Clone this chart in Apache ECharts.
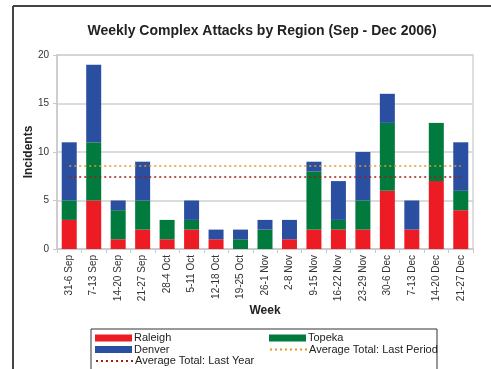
<!DOCTYPE html>
<html>
<head>
<meta charset="utf-8">
<script src="https://cdn.jsdelivr.net/npm/echarts@6/dist/echarts.min.js"></script>
<style>
  html, body { margin: 0; padding: 0; background: #fff; }
  #chart { width: 491px; height: 369px; }
</style>
</head>
<body>
<div id="chart"></div>
<script>
// weeks on the x axis
var weeks = ['31-6 Sep', '7-13 Sep', '14-20 Sep', '21-27 Sep', '28-4 Oct', '5-11 Oct',
  '12-18 Oct', '19-25 Oct', '26-1 Nov', '2-8 Nov', '9-15 Nov', '16-22 Nov',
  '23-29 Nov', '30-6 Dec', '7-13 Dec', '14-20 Dec', '21-27 Dec']
// incidents per region
var raleigh = [3, 5, 1, 2, 1, 2, 1, 0, 0, 1, 2, 2, 2, 6, 2, 7, 4]
var topeka = [2, 6, 3, 3, 2, 1, 0, 1, 2, 0, 6, 1, 3, 7, 0, 6, 2]
var denver = [6, 8, 1, 4, 0, 2, 1, 1, 1, 2, 1, 4, 5, 3, 3, 0, 5]
// averages
var avgLastPeriod = 8.6
var avgLastYear = 7.5
var yTicks = [0, 5, 10, 15, 20]

var font = 'Liberation Sans, Arial, sans-serif'

function avgLine(name, value, color) {
  return {
    name: name,
    type: 'line',
    data: [],
    symbol: 'none',
    lineStyle: { color: color, type: [2, 3], width: 1.5 },
    itemStyle: { color: color },
    markLine: {
      silent: true,
      symbol: 'none',
      label: { show: false },
      lineStyle: { color: color, type: [2, 3], width: 1.5 },
      data: [[{ coord: [weeks[0], value] }, { coord: [weeks[weeks.length - 1], value] }]]
    }
  }
}

// one legend per entry, laid out in two columns like the original box
function legendItem(name, left, top, isLine) {
  var item = { name: name }
  if (isLine) item.itemStyle = { opacity: 0 }
  else item.icon = 'rect'
  return {
    left: left,
    top: top,
    itemWidth: 37,
    itemHeight: 7,
    padding: 0,
    textStyle: { fontSize: 11, color: '#222', padding: [0, 0, 0, -3] },
    data: [item]
  }
}

var myChart = echarts.init(document.getElementById('chart'))
var option = {
  animation: false,
  textStyle: { fontFamily: font },
  title: {
    text: 'Weekly Complex Attacks by Region (Sep - Dec 2006)',
    left: 257,
    textAlign: 'center',
    top: 19,
    textStyle: { fontSize: 14, fontWeight: 'bold', color: '#222', fontFamily: font }
  },
  graphic: [
    { type: 'line', shape: { x1: 13, y1: 6, x2: 13, y2: 369 }, style: { stroke: '#444', lineWidth: 2 } },
    { type: 'line', shape: { x1: 13, y1: 6, x2: 491, y2: 6 }, style: { stroke: '#444', lineWidth: 2 } },
    { type: 'rect', shape: { x: 91, y: 329, width: 346, height: 60 }, style: { fill: 'none', stroke: '#333', lineWidth: 1 } }
  ],
  legend: [
    legendItem('Raleigh', 95, 332.5, false),
    legendItem('Denver', 95, 344, false),
    legendItem('Average Total: Last Year', 95, 355.5, true),
    legendItem('Topeka', 269, 332.5, false),
    legendItem('Average Total: Last Period', 269, 344, true)
  ],
  grid: {
    left: 57,
    right: 18,
    top: 55,
    bottom: 120,
    show: true,
    borderColor: '#d4d4d4',
    borderWidth: 1.5
  },
  xAxis: {
    type: 'category',
    data: weeks,
    name: 'Week',
    nameLocation: 'middle',
    nameGap: 56,
    nameMoveOverlap: false,
    nameTextStyle: { fontSize: 12, fontWeight: 'bold', color: '#222' },
    axisLine: { lineStyle: { color: '#c8c8c8', width: 1.5 } },
    axisTick: { show: true, length: 4, lineStyle: { color: '#c8c8c8' } },
    axisLabel: { rotate: 90, fontSize: 10, color: '#333', margin: 6 }
  },
  yAxis: {
    type: 'value',
    min: yTicks[0],
    max: yTicks[yTicks.length - 1],
    interval: 5,
    name: 'Incidents',
    nameLocation: 'middle',
    nameGap: 22,
    nameMoveOverlap: false,
    nameTextStyle: { fontSize: 12, fontWeight: 'bold', color: '#222' },
    axisLine: { show: true, lineStyle: { color: '#c8c8c8', width: 1.5 } },
    axisTick: { show: true, length: 4, lineStyle: { color: '#c8c8c8' } },
    axisLabel: { fontSize: 10, color: '#333', margin: 8 },
    splitLine: { lineStyle: { color: '#d0d0d0', width: 1.5 } }
  },
  series: [
    { name: 'Raleigh', type: 'bar', stack: 'all', data: raleigh, barWidth: 15, itemStyle: { color: '#ed1c24' } },
    { name: 'Topeka', type: 'bar', stack: 'all', data: topeka, barWidth: 15, itemStyle: { color: '#007a3d' } },
    { name: 'Denver', type: 'bar', stack: 'all', data: denver, barWidth: 15, itemStyle: { color: '#2b4fa0' } },
    avgLine('Average Total: Last Period', avgLastPeriod, '#e8962a'),
    avgLine('Average Total: Last Year', avgLastYear, '#a01e0f')
  ]
}
myChart.setOption(option)
</script>
</body>
</html>
